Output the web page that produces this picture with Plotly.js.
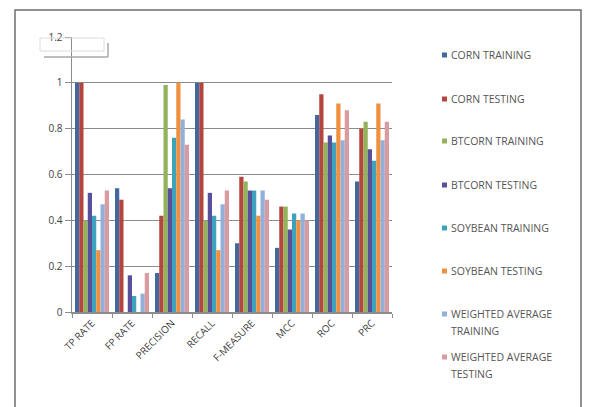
<!DOCTYPE html>
<html>
<head>
<meta charset="utf-8">
<script src="https://cdn.plot.ly/plotly-3.0.1.min.js"></script>
<style>html,body{margin:0;padding:0;background:#fff}#chart{width:597px;height:407px}</style>
</head>
<body>
<div id="chart"></div>
<script>
var categories = ["TP RATE", "FP RATE", "PRECISION", "RECALL", "F-MEASURE", "MCC", "ROC", "PRC"];
var seriesNames = ["CORN TRAINING", "CORN TESTING", "BTCORN TRAINING", "BTCORN TESTING",
                   "SOYBEAN TRAINING", "SOYBEAN TESTING", "WEIGHTED AVERAGE<br>TRAINING", "WEIGHTED AVERAGE<br>TESTING"];
var cornTraining    = [1.00, 0.54, 0.17, 1.00, 0.30, 0.28, 0.86, 0.57];
var cornTesting     = [1.00, 0.49, 0.42, 1.00, 0.59, 0.46, 0.95, 0.80];
var btcornTraining  = [0.40, 0.00, 0.99, 0.40, 0.57, 0.46, 0.74, 0.83];
var btcornTesting   = [0.52, 0.16, 0.54, 0.52, 0.53, 0.36, 0.77, 0.71];
var soybeanTraining = [0.42, 0.07, 0.76, 0.42, 0.53, 0.43, 0.74, 0.66];
var soybeanTesting  = [0.27, 0.00, 1.00, 0.27, 0.42, 0.40, 0.91, 0.91];
var waTraining      = [0.47, 0.08, 0.84, 0.47, 0.53, 0.43, 0.75, 0.75];
var waTesting       = [0.53, 0.17, 0.73, 0.53, 0.49, 0.40, 0.88, 0.83];
var yTickVals = [0, 0.2, 0.4, 0.6, 0.8, 1, 1.2];
var yTickText = ["0", "0.2", "0.4", "0.6", "0.8", "1", "1.2"];

var seriesValues = [cornTraining, cornTesting, btcornTraining, btcornTesting,
                    soybeanTraining, soybeanTesting, waTraining, waTesting];
var colors = ["#41699d", "#b5463f", "#92b35a", "#58509a", "#3ea2bd", "#f1913f", "#91b1d9", "#d99aa0"];

// plot area in pixels
var L = 72, R = 392, T = 37, B = 312;
function px(x) { return (x - L) / (R - L); }
function py(y) { return (B - y) / (B - T); }

var traces = seriesValues.map(function (vals, i) {
  return {
    type: "bar", x: categories, y: vals, name: seriesNames[i],
    marker: { color: colors[i], line: { width: 0 } },
    showlegend: false, hoverinfo: "x+y+name"
  };
});

var shapes = [
  // outer chart frame
  { type: "rect", xref: "paper", yref: "paper", x0: px(15), x1: px(581), y0: py(10), y1: py(412),
    line: { color: "#6e6e6e", width: 1.5 }, fillcolor: "rgba(0,0,0,0)", layer: "below" },
  // faint selection artifact in the corner
  { type: "rect", xref: "paper", yref: "paper", x0: px(40), x1: px(104), y0: py(38), y1: py(51),
    line: { color: "#dcdcdc", width: 1 }, fillcolor: "rgba(0,0,0,0)" },
  { type: "line", xref: "paper", yref: "paper", x0: px(44), x1: px(108), y0: py(57), y1: py(57),
    line: { color: "#a8a8a8", width: 1.5 } },
  { type: "line", xref: "paper", yref: "paper", x0: px(108), x1: px(108), y0: py(43), y1: py(57),
    line: { color: "#a8a8a8", width: 1.5 } }
];
var annotations = [];
var legendY = [55, 99, 141, 185, 228, 271, 314, 357];
seriesNames.forEach(function (nm, i) {
  var y = legendY[i];
  shapes.push({ type: "rect", xref: "paper", yref: "paper", x0: px(442), x1: px(447), y0: py(y - 2.5), y1: py(y + 2.5),
    line: { width: 0 }, fillcolor: colors[i] });
  nm.split("<br>").forEach(function (line, j) {
    annotations.push({ xref: "paper", yref: "paper", x: px(448.5), y: py(y + j * 17), xanchor: "left", yanchor: "middle",
      text: line, showarrow: false, font: { family: "Open Sans, sans-serif", size: 10.5, color: "#555555" } });
  });
});

var layout = {
  width: 597, height: 407,
  margin: { l: L, r: 597 - R, t: T, b: 407 - B, pad: 0 },
  paper_bgcolor: "#ffffff", plot_bgcolor: "#ffffff",
  barmode: "group", bargap: 0.15, bargroupgap: 0,
  font: { family: "Open Sans, sans-serif", color: "#404040" },
  xaxis: {
    type: "category", tickangle: -45, ticks: "outside", tickson: "boundaries", ticklen: 4,
    tickcolor: "#8c8c8c", showline: true, linecolor: "#8c8c8c", linewidth: 1.5,
    showgrid: false, tickfont: { size: 10, color: "#404040" }, fixedrange: true
  },
  yaxis: {
    range: [0, 1.2], tickvals: yTickVals, ticktext: yTickText, ticks: "outside", ticklen: 6,
    tickcolor: "#8c8c8c", showline: true, linecolor: "#8c8c8c", linewidth: 1.5,
    showgrid: true, gridcolor: "#8c8c8c", gridwidth: 1.3, zeroline: false,
    tickfont: { size: 10, color: "#404040" }, fixedrange: true
  },
  shapes: shapes,
  annotations: annotations,
  showlegend: false
};

Plotly.newPlot("chart", traces, layout, { displayModeBar: false, staticPlot: true });
</script>
</body>
</html>
